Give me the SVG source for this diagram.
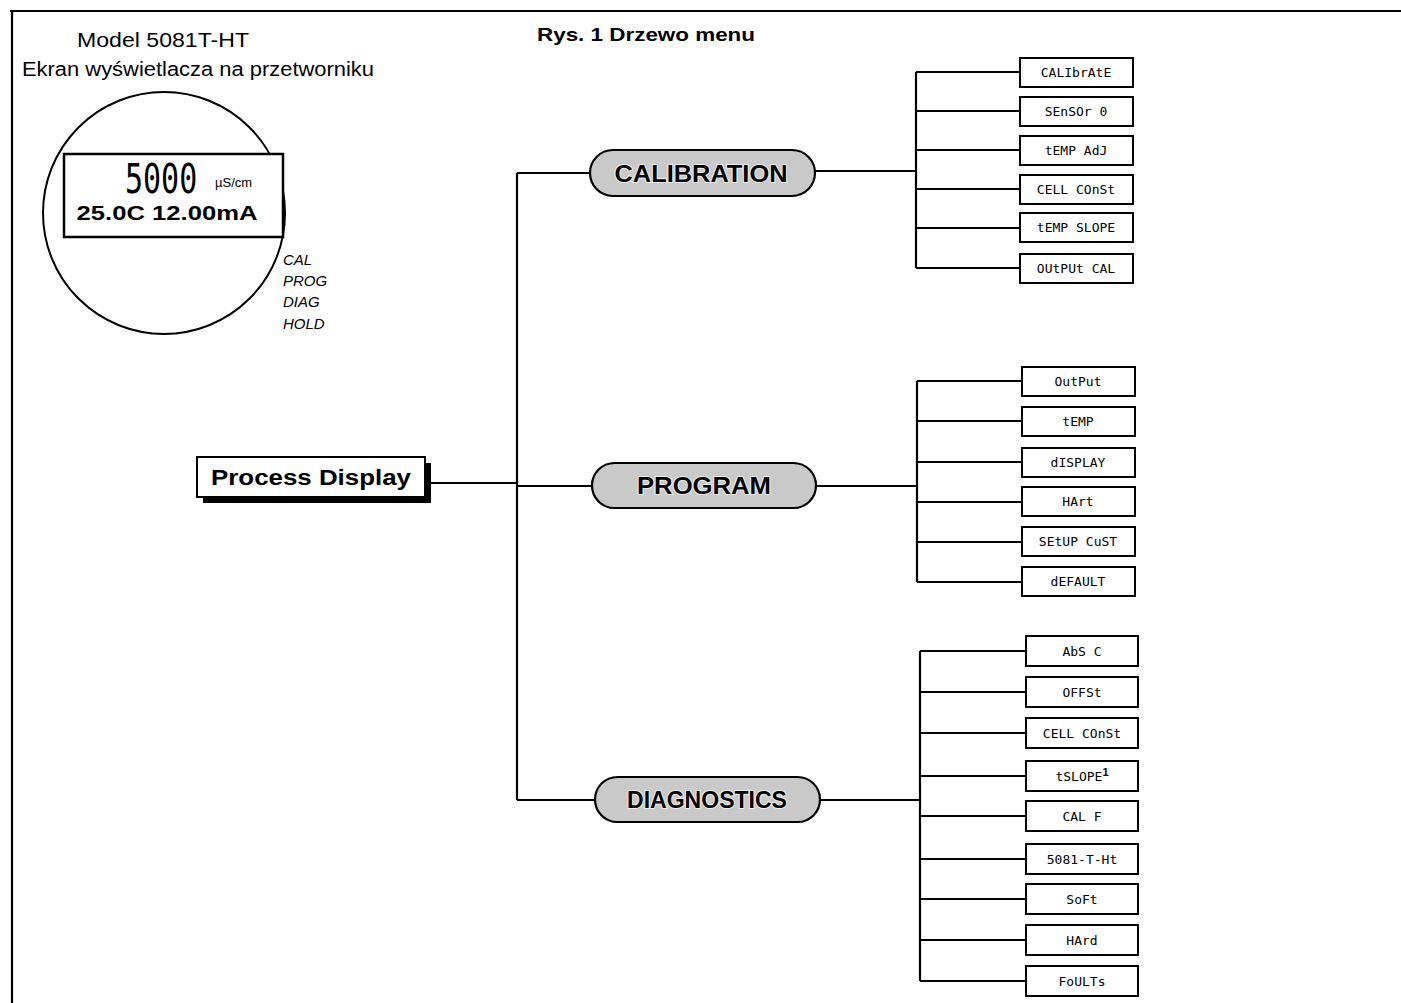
<svg xmlns="http://www.w3.org/2000/svg" width="1401" height="1003" viewBox="0 0 1401 1003">
<style>
.ln{stroke:#000;stroke-width:2.2;fill:none}
.box{fill:#fff;stroke:#000;stroke-width:2}
.lcd{font-family:"DejaVu Sans Mono","Liberation Mono",monospace;font-size:13px;fill:#000;text-anchor:middle}
.pill{fill:#c9c9c9;stroke:#000;stroke-width:2.2}
.pt{font-family:"Liberation Sans",Arial,sans-serif;font-weight:bold;font-size:24px;fill:#000;text-anchor:middle;stroke:#eee;stroke-width:2;paint-order:stroke}
.hd{font-family:"Liberation Sans",Arial,sans-serif;font-size:20px;fill:#000;text-anchor:middle}
.it{font-family:"Liberation Sans",Arial,sans-serif;font-size:15px;font-style:italic;fill:#000}
</style>
<rect width="1401" height="1003" fill="#fff"/>
<g id="frame">
<line x1="10" y1="11" x2="1401" y2="11" class="ln"/>
<line x1="12" y1="10" x2="12" y2="1003" class="ln"/>
</g>
<g id="titles">
<text x="163" y="47" class="hd" textLength="172" lengthAdjust="spacingAndGlyphs">Model 5081T-HT</text>
<text x="198" y="76" class="hd" textLength="352" lengthAdjust="spacingAndGlyphs">Ekran wyświetlacza na przetworniku</text>
<text x="646" y="41" font-family="Liberation Sans,Arial,sans-serif" font-weight="bold" font-size="19" text-anchor="middle" textLength="218" lengthAdjust="spacingAndGlyphs">Rys. 1 Drzewo menu</text>
</g>
<g id="display">
<circle cx="164" cy="213" r="121" fill="none" stroke="#000" stroke-width="2"/>
<rect x="64" y="154" width="219" height="83" fill="#fff" stroke="#000" stroke-width="2.5"/>
<text transform="translate(125,193) scale(1,1.35)" font-family="DejaVu Sans Mono,monospace" font-size="30" font-weight="300">5000</text>
<text x="215" y="187" font-family="Liberation Sans,Arial,sans-serif" font-size="13">µS/cm</text>
<text x="167" y="220" font-family="Liberation Sans,Arial,sans-serif" font-weight="bold" font-size="21" text-anchor="middle" textLength="181" lengthAdjust="spacingAndGlyphs">25.0C 12.00mA</text>
<text x="283" y="265" class="it">CAL</text>
<text x="283" y="286" class="it">PROG</text>
<text x="283" y="307" class="it">DIAG</text>
<text x="283" y="329" class="it">HOLD</text>
</g>
<g id="connectors">
<path class="ln" d="M425 483H518M517 173V800M517 173H590M517 486H592M517 800H595"/>
<path class="ln" d="M815 171H916M916 72V268M916 72H1020M916 111H1020M916 150H1020M916 189H1020M916 228H1020M916 268H1020"/>
<path class="ln" d="M816 486H917M917 381V582M917 381H1022M917 421H1022M917 462H1022M917 502H1022M917 542H1022M917 582H1022"/>
<path class="ln" d="M820 800H920M920 651V981M920 651H1026M920 692H1026M920 733H1026M920 776H1026M920 816H1026M920 859H1026M920 899H1026M920 940H1026M920 981H1026"/>
</g>
<g id="process-display">
<rect x="203" y="463" width="228" height="40" fill="#000"/>
<rect x="197" y="457" width="228" height="40" fill="#fff" stroke="#000" stroke-width="2"/>
<text x="311" y="485" font-family="Liberation Sans,Arial,sans-serif" font-weight="bold" font-size="22" text-anchor="middle" textLength="200" lengthAdjust="spacingAndGlyphs">Process Display</text>
</g>
<g id="calibration">
<rect x="590" y="150" width="225" height="46" rx="23" class="pill"/>
<text x="701" y="182" class="pt" textLength="173" lengthAdjust="spacingAndGlyphs">CALIBRATION</text>
</g>
<g id="program">
<rect x="592" y="463" width="224" height="45" rx="22.5" class="pill"/>
<text x="704" y="494" class="pt" textLength="134" lengthAdjust="spacingAndGlyphs">PROGRAM</text>
</g>
<g id="diagnostics">
<rect x="595" y="777" width="225" height="45" rx="22.5" class="pill"/>
<text x="707" y="808" class="pt" textLength="160" lengthAdjust="spacingAndGlyphs">DIAGNOSTICS</text>
</g>
<g id="cal-items">
<g id="cal-1"><rect x="1020" y="58" width="113" height="29" class="box"/><text x="1076" y="77" class="lcd">CALIbrAtE</text></g>
<g id="cal-2"><rect x="1020" y="97" width="113" height="29" class="box"/><text x="1076" y="116" class="lcd">SEnSOr 0</text></g>
<g id="cal-3"><rect x="1020" y="136" width="113" height="29" class="box"/><text x="1076" y="155" class="lcd">tEMP AdJ</text></g>
<g id="cal-4"><rect x="1020" y="175" width="113" height="29" class="box"/><text x="1076" y="194" class="lcd">CELL COnSt</text></g>
<g id="cal-5"><rect x="1020" y="213" width="113" height="29" class="box"/><text x="1076" y="232" class="lcd">tEMP SLOPE</text></g>
<g id="cal-6"><rect x="1020" y="254" width="113" height="29" class="box"/><text x="1076" y="273" class="lcd">OUtPUt CAL</text></g>
</g>
<g id="prog-items">
<g id="prog-1"><rect x="1022" y="367" width="113" height="29" class="box"/><text x="1078" y="386" class="lcd">OutPut</text></g>
<g id="prog-2"><rect x="1022" y="407" width="113" height="29" class="box"/><text x="1078" y="426" class="lcd">tEMP</text></g>
<g id="prog-3"><rect x="1022" y="448" width="113" height="29" class="box"/><text x="1078" y="467" class="lcd">dISPLAY</text></g>
<g id="prog-4"><rect x="1022" y="487" width="113" height="29" class="box"/><text x="1078" y="506" class="lcd">HArt</text></g>
<g id="prog-5"><rect x="1022" y="527" width="113" height="29" class="box"/><text x="1078" y="546" class="lcd">SEtUP CuST</text></g>
<g id="prog-6"><rect x="1022" y="567" width="113" height="29" class="box"/><text x="1078" y="586" class="lcd">dEFAULT</text></g>
</g>
<g id="diag-items">
<g id="diag-1"><rect x="1026" y="636" width="112" height="30" class="box"/><text x="1082" y="656" class="lcd">AbS C</text></g>
<g id="diag-2"><rect x="1026" y="677" width="112" height="30" class="box"/><text x="1082" y="697" class="lcd">OFFSt</text></g>
<g id="diag-3"><rect x="1026" y="718" width="112" height="30" class="box"/><text x="1082" y="738" class="lcd">CELL COnSt</text></g>
<g id="diag-4"><rect x="1026" y="761" width="112" height="30" class="box"/><text x="1082" y="781" class="lcd">tSLOPE<tspan font-family="Liberation Sans,Arial,sans-serif" font-weight="bold" font-size="11" dy="-5">1</tspan></text></g>
<g id="diag-5"><rect x="1026" y="801" width="112" height="30" class="box"/><text x="1082" y="821" class="lcd">CAL F</text></g>
<g id="diag-6"><rect x="1026" y="844" width="112" height="30" class="box"/><text x="1082" y="864" class="lcd">5081-T-Ht</text></g>
<g id="diag-7"><rect x="1026" y="884" width="112" height="30" class="box"/><text x="1082" y="904" class="lcd">SoFt</text></g>
<g id="diag-8"><rect x="1026" y="925" width="112" height="30" class="box"/><text x="1082" y="945" class="lcd">HArd</text></g>
<g id="diag-9"><rect x="1026" y="966" width="112" height="30" class="box"/><text x="1082" y="986" class="lcd">FoULTs</text></g>
</g>
</svg>
